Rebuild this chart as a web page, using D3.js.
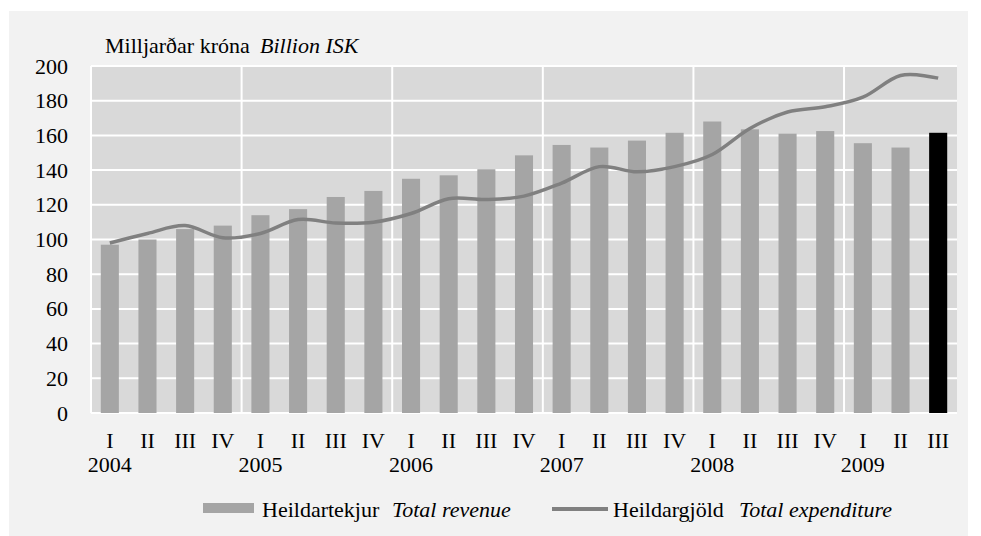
<!DOCTYPE html>
<html>
<head>
<meta charset="utf-8">
<script src="https://cdn.jsdelivr.net/npm/d3@7"></script>
<style>
  body { margin: 0; background: #fff; }
  svg text { font-family: "Liberation Serif", "DejaVu Serif", serif; fill: #000; }
</style>
</head>
<body>
<div id="chart"></div>
<script>
// quarters and years
var quarters = ["I","II","III","IV","I","II","III","IV","I","II","III","IV","I","II","III","IV","I","II","III","IV","I","II","III"];
var years = ["2004","2005","2006","2007","2008","2009"];
// Heildartekjur / Total revenue
var revenue = [97,100,106,108,114,117.5,124.5,128,135,137,140.5,148.5,154.5,153,157,161.5,168,163.5,161,162.5,155.5,153,161.5];
// Heildargjöld / Total expenditure
var expenditure = [98,103.5,108,101,103.5,111.5,109.5,110,115,123.5,123,125,132.5,142,139,142,149,164,173.5,176.5,182,194.5,193];
var yTicks = [0,20,40,60,80,100,120,140,160,180,200];

var w = 981, h = 536;
var plotL = 91, plotR = 957, plotT = 66, plotB = 413;
var fs = 22;

var svg = d3.select("#chart").append("svg")
  .attr("width", w)
  .attr("height", h);

// outer panel
svg.append("rect")
  .attr("x", 9).attr("y", 11)
  .attr("width", 959).attr("height", 525)
  .attr("fill", "#f2f2f2");

var idx = d3.range(quarters.length);

var xScale = d3.scaleBand()
  .domain(idx)
  .range([plotL, plotR])
  .padding(0);

var yScale = d3.scaleLinear()
  .domain([0, 200])
  .range([plotB, plotT]);

// plot background
svg.append("rect")
  .attr("x", plotL).attr("y", plotT)
  .attr("width", plotR - plotL).attr("height", plotB - plotT)
  .attr("fill", "#d9d9d9");

// horizontal grid
svg.selectAll("line.hgrid")
  .data(yTicks)
  .enter()
  .append("line")
  .attr("class", "hgrid")
  .attr("x1", plotL).attr("x2", plotR)
  .attr("y1", function(d) { return yScale(d); })
  .attr("y2", function(d) { return yScale(d); })
  .attr("stroke", "#fff")
  .attr("stroke-width", 2);

// vertical grid at year boundaries
var yearStarts = idx.filter(function(i) { return quarters[i] == "I"; });
svg.selectAll("line.vgrid")
  .data(yearStarts)
  .enter()
  .append("line")
  .attr("class", "vgrid")
  .attr("x1", function(d) { return xScale(d); })
  .attr("x2", function(d) { return xScale(d); })
  .attr("y1", plotT).attr("y2", plotB)
  .attr("stroke", "#fff")
  .attr("stroke-width", 2);

// bars
var barW = xScale.bandwidth() * 0.48;
svg.selectAll("rect.bar")
  .data(revenue)
  .enter()
  .append("rect")
  .attr("class", "bar")
  .attr("x", function(d, i) { return xScale(i) + (xScale.bandwidth() - barW) / 2; })
  .attr("y", function(d) { return yScale(d); })
  .attr("width", barW)
  .attr("height", function(d) { return plotB - yScale(d); })
  .attr("fill", function(d, i) { return i == revenue.length - 1 ? "#000" : "#a5a5a5"; });

// expenditure line
var line = d3.line()
  .x(function(d, i) { return xScale(i) + xScale.bandwidth() / 2; })
  .y(function(d) { return yScale(d); })
  .curve(d3.curveCatmullRom.alpha(0));

svg.append("path")
  .datum(expenditure)
  .attr("d", line)
  .attr("fill", "none")
  .attr("stroke", "#808080")
  .attr("stroke-width", 3.5);

// y axis labels
svg.selectAll("text.ytick")
  .data(yTicks)
  .enter()
  .append("text")
  .attr("class", "ytick")
  .attr("x", 68)
  .attr("y", function(d) { return yScale(d) + 7.5; })
  .attr("text-anchor", "end")
  .attr("font-size", fs)
  .text(function(d) { return d; });

// x labels
svg.selectAll("text.qtick")
  .data(quarters)
  .enter()
  .append("text")
  .attr("class", "qtick")
  .attr("x", function(d, i) { return xScale(i) + xScale.bandwidth() / 2; })
  .attr("y", 448)
  .attr("text-anchor", "middle")
  .attr("font-size", fs)
  .text(function(d) { return d; });

svg.selectAll("text.ytext")
  .data(years)
  .enter()
  .append("text")
  .attr("class", "ytext")
  .attr("x", function(d, i) { return xScale(yearStarts[i]) + xScale.bandwidth() / 2; })
  .attr("y", 472)
  .attr("text-anchor", "middle")
  .attr("font-size", fs)
  .text(function(d) { return d; });

// unit title
svg.append("text")
  .attr("x", 105).attr("y", 53)
  .attr("font-size", fs)
  .text("Milljarðar króna");
svg.append("text")
  .attr("x", 260).attr("y", 53)
  .attr("font-size", fs)
  .attr("font-style", "italic")
  .text("Billion ISK");

// legend
svg.append("rect")
  .attr("x", 203).attr("y", 503)
  .attr("width", 51).attr("height", 10)
  .attr("fill", "#a5a5a5");
svg.append("text")
  .attr("x", 262).attr("y", 517)
  .attr("font-size", fs)
  .text("Heildartekjur");
svg.append("text")
  .attr("x", 392).attr("y", 517)
  .attr("font-size", fs)
  .attr("font-style", "italic")
  .text("Total revenue");

svg.append("line")
  .attr("x1", 552).attr("x2", 608)
  .attr("y1", 509).attr("y2", 509)
  .attr("stroke", "#808080")
  .attr("stroke-width", 4);
svg.append("text")
  .attr("x", 613).attr("y", 517)
  .attr("font-size", fs)
  .text("Heildargjöld");
svg.append("text")
  .attr("x", 739).attr("y", 517)
  .attr("font-size", fs)
  .attr("font-style", "italic")
  .text("Total expenditure");
</script>
</body>
</html>
